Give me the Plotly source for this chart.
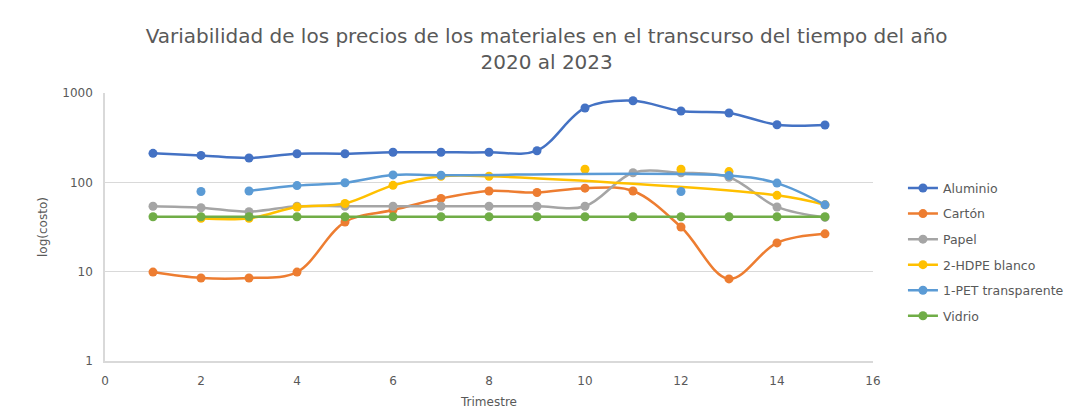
import plotly.graph_objects as go

trimestres = list(range(1, 16))

aluminio = [211, 200, 187, 209, 209, 217, 217, 217, 226, 680, 820, 628, 597, 441, 438]
carton = [9.9, 8.5, 8.5, 9.9, 36, 49, 66, 80, 77, 86, 80, 31.6, 8.3, 21, 26.5]
papel = [54, 52, 47, 54, 54, 54, 54, 54, 54, 54, 128, 128, 114, 53, 40.5]
vidrio = [41.2] * 15

hdpe_x = [2, 3, 4, 5, 6, 7, 8, 14, 15]
hdpe_y = [39.5, 39.5, 53, 58, 92.5, 117, 117, 71.5, 56]
hdpe_dots_x = [10, 12, 13]
hdpe_dots_y = [140, 140, 132]

pet_x = [3, 4, 5, 6, 7, 13, 14, 15]
pet_y = [80, 92, 99, 121, 120, 119, 98, 56]
pet_dots_x = [2, 12]
pet_dots_y = [79, 79]

colors = {
    "Aluminio": "#4472C4",
    "Cartón": "#ED7D31",
    "Papel": "#A5A5A5",
    "2-HDPE blanco": "#FFC000",
    "1-PET transparente": "#5B9BD5",
    "Vidrio": "#70AD47",
}

fig = go.Figure()

def add_line(name, x, y, show=True):
    fig.add_trace(go.Scatter(
        x=x, y=y, name=name, mode="lines+markers",
        line=dict(color=colors[name], width=2.5, shape="spline", smoothing=1.0),
        marker=dict(color=colors[name], size=9),
        legendgroup=name, showlegend=show,
    ))

def add_dots(name, x, y):
    fig.add_trace(go.Scatter(
        x=x, y=y, name=name, mode="markers",
        marker=dict(color=colors[name], size=9),
        legendgroup=name, showlegend=False,
    ))

add_line("Aluminio", trimestres, aluminio)
add_line("Cartón", trimestres, carton)
add_line("Papel", trimestres, papel)
add_line("2-HDPE blanco", hdpe_x, hdpe_y)
add_dots("2-HDPE blanco", hdpe_dots_x, hdpe_dots_y)
add_line("1-PET transparente", pet_x, pet_y)
add_dots("1-PET transparente", pet_dots_x, pet_dots_y)
add_line("Vidrio", trimestres, vidrio)

font_family = "DejaVu Sans, sans-serif"
grey = "#595959"

fig.update_layout(
    width=1073, height=419,
    margin=dict(l=97, r=208, t=85, b=66),
    paper_bgcolor="white", plot_bgcolor="white",
    font=dict(family=font_family, color=grey, size=12),
    title=dict(
        text="Variabilidad de los precios de los materiales en el transcurso del tiempo del año<br>2020 al 2023",
        x=0.502, xanchor="center", y=0.916, yanchor="top",
        font=dict(size=20, color=grey, family=font_family),
    ),
    legend=dict(
        x=1.039, xanchor="left", y=0.70, yanchor="top",
        font=dict(size=12.5, color=grey), tracegroupgap=6.3,
        itemwidth=30,
    ),
    xaxis=dict(
        range=[0, 16], dtick=2, tick0=0, showgrid=False,
        showline=True, linecolor="#D9D9D9", linewidth=1.5,
        ticks="outside", ticklen=8, tickcolor="rgba(0,0,0,0)", zeroline=False,
        title=dict(text="Trimestre", font=dict(size=12, color=grey), standoff=10),
        tickfont=dict(size=12, color=grey),
    ),
    yaxis=dict(
        type="log", range=[0, 3], tickvals=[1, 10, 100, 1000],
        ticktext=["1", "10", "100", "1000"],
        showgrid=True, gridcolor="#D9D9D9", gridwidth=1,
        showline=True, linecolor="#D9D9D9", linewidth=1.5,
        ticks="outside", ticklen=8, tickcolor="rgba(0,0,0,0)", zeroline=False,
        title=dict(text="log(costo)", font=dict(size=12, color=grey), standoff=12),
        tickfont=dict(size=12, color=grey),
    ),
)

fig.write_html("out.html")
